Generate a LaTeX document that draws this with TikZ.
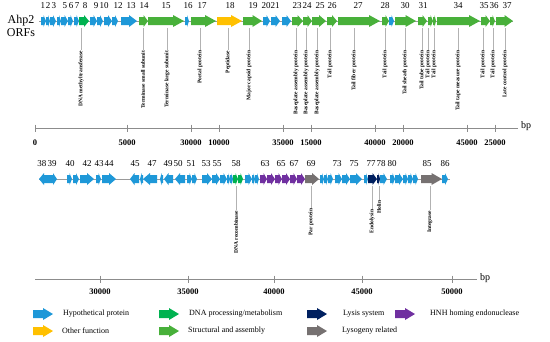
\documentclass[tikz,border=0pt]{standalone}
\usepackage{fontspec}
\setmainfont{Liberation Serif}
\usepackage{tikz}
\usetikzlibrary{positioning}

\definecolor{orfblue}{RGB}{30,152,216}
\definecolor{orfstruct}{RGB}{72,176,58}
\definecolor{orfdna}{RGB}{0,178,80}
\definecolor{orfother}{RGB}{255,192,0}
\definecolor{orflysis}{RGB}{0,32,96}
\definecolor{orflyso}{RGB}{118,113,113}
\definecolor{orfhnh}{RGB}{112,48,160}

% gene arrows: y, start, end, colour
\newcommand{\orfR}[4]{%
  \pgfmathsetmacro{\hl}{min(0.5*(#3-#2),11)}%
  \fill[#4] (#2,#1-4) -- ({#3-\hl},#1-4) -- ({#3-\hl},#1-6) -- (#3,#1)
    -- ({#3-\hl},#1+6) -- ({#3-\hl},#1+4) -- (#2,#1+4) -- cycle;}
\newcommand{\orfL}[4]{%
  \pgfmathsetmacro{\hl}{min(0.5*(#3-#2),11)}%
  \fill[#4] (#3,#1-4) -- ({#2+\hl},#1-4) -- ({#2+\hl},#1-6) -- (#2,#1)
    -- ({#2+\hl},#1+6) -- ({#2+\hl},#1+4) -- (#3,#1+4) -- cycle;}

\begin{document}
\begin{tikzpicture}[
  x=1pt, y=-1pt,
  orflabel/.style={rotate=90, anchor=east, inner sep=0.5pt,
                   font=\fontsize{5.5}{6}\selectfont\bfseries},
  orfnum/.style={inner sep=0pt, font=\fontsize{9}{10}\selectfont},
  ticklabel/.style={inner sep=0pt, font=\fontsize{8.5}{9}\selectfont\bfseries},
  legtext/.style={anchor=west, inner sep=0pt, font=\fontsize{8}{9}\selectfont},
  leader/.style={draw=gray!60, line width=0.5pt},
  track/.style={draw=gray!80, line width=0.6pt},
  axis/.style={draw=gray!90, line width=0.6pt}
]
  \useasboundingbox (0,0) rectangle (550,341);

  \node[font=\fontsize{12}{12}\selectfont, inner sep=0pt] (name) at (21,21) {Ahp2};
  \node[font=\fontsize{12}{12}\selectfont, inner sep=0pt] (orfs) at (21,33) {ORFs};

  % first track
  \draw[track] (39,21) -- (513,21);
  \foreach \a/\b/\c in {41/46/orfblue, 46/50/orfblue, 50/56/orfblue, 57/61/orfblue,
      61/68/orfblue, 68/73/orfblue, 74/79/orfblue, 79/89/orfdna, 90/97/orfblue,
      97/103/orfblue, 104/112/orfblue, 112/118/orfblue, 121/137/orfblue,
      139/148/orfstruct, 148/184/orfstruct, 185/189/orfblue, 191/216/orfstruct,
      217/242/orfother, 243/262/orfstruct, 263/270/orfblue, 271/280/orfblue,
      282/291/orfblue, 292/303/orfstruct, 303/312/orfstruct, 312/326/orfstruct,
      327/337/orfstruct, 338/380/orfstruct, 382/389/orfstruct, 389/394/orfblue,
      395/416/orfstruct, 418/427/orfstruct, 428/433/orfstruct, 433/436/orfstruct,
      437/480/orfstruct, 481/490/orfstruct, 490/495/orfstruct, 496/513/orfstruct}
    \orfR{21}{\a}{\b}{\c};
  \foreach \n/\x in {1/43, 2/48, 3/54, 5/65, 6/71, 7/77, 8/85, 9/96, 10/104,
      12/118, 13/131, 14/144, 15/166, 16/188, 17/202, 18/230, 19/253, 20/266,
      21/275, 23/297, 24/307, 25/320, 26/332, 27/358, 28/385, 30/405, 31/423,
      34/458, 35/484, 36/494, 37/507}
    \node[orfnum] (n\n) at (\x,6) {\n};
  \foreach \x/\t [count=\i] in {81/DNA methyltransferase, 143/Terminase small subunit,
      167/Terminase large subunit, 200/Portal protein, 228/Peptidase,
      249/Major capsid protein, 296/Baseplate assembly protein,
      306/Baseplate assembly protein, 317/Baseplate assembly protein,
      330/Tail protein, 354/Tail fiber protein, 385/Tail protein,
      405/Tail sheath protein, 422/Tail tube protein, 428/Tail protein,
      434/Tail protein, 458/Tail tape measure protein, 483/Tail protein,
      493/Tail protein, 505/Late control protein}
  {
    \node[orflabel] (lab\i) at (\x,50) {\t};
    \draw[leader] (\x,28) -- (lab\i.east);
  }

  % first axis
  \draw[axis] (35,128) -- (518,128);
  \node[anchor=west, inner sep=0pt, font=\fontsize{10}{10}\selectfont] (bp1) at (521,126) {bp};
  \foreach \x/\t in {35/0, 127/5000, 191/30000, 219/10000, 283/35000, 311/15000,
      375/40000, 403/20000, 467/45000, 495/25000}
  {
    \draw[axis] (\x,124.5) -- (\x,131.5);
    \node[ticklabel] at (\x,143) {\t};
  }

  % second track
  \draw[track] (39,179) -- (450,179);
  \foreach \a/\b/\c in {39/49/orfblue, 130/139/orfblue, 140/143/orfblue,
      143/157/orfblue, 160/163/orfblue, 164/173/orfblue, 175/185/orfblue}
    \orfL{179}{\a}{\b}{\c};
  \foreach \a/\b/\c in {49/57/orfblue, 67/72/orfblue, 73/79/orfblue, 80/94/orfblue,
      96/101/orfblue, 102/116/orfblue, 187/192/orfblue, 192/197/orfblue,
      202/212/orfblue, 212/220/orfblue, 220/227/orfblue, 227/230/orfblue,
      230/233/orfblue, 233/238/orfdna, 238/243/orfdna, 245/252/orfblue,
      252/255/orfblue, 255/259/orfblue, 260/267/orfhnh, 267/275/orfhnh,
      275/282/orfhnh, 282/290/orfhnh, 290/297/orfhnh, 297/305/orfhnh,
      305/319/orflyso, 320/324/orfblue, 324/328/orfblue, 328/333/orfblue,
      335/342/orfblue, 342/350/orfblue, 350/362/orfblue, 364/368/orfblue,
      368/377/orflysis, 377/380/orflysis, 380/387/orfblue, 390/395/orfblue,
      395/403/orfblue, 403/408/orfblue, 408/413/orfblue, 413/418/orfblue,
      421/442/orflyso, 442/448/orfblue}
    \orfR{179}{\a}{\b}{\c};
  \foreach \n/\x in {38/42, 39/52, 40/70, 42/87, 43/99, 44/109, 45/135, 47/152,
      49/168, 50/178, 51/191, 53/206, 55/217, 58/236, 63/265, 65/281, 67/294,
      69/311, 73/337, 75/354, 77/371, 78/381, 80/392, 85/427, 86/445}
    \node[orfnum] (n\n) at (\x,164) {\n};
  \foreach \x/\y/\t [count=\i] in {236/210/DNA recombinase, 311/208/Par protein,
      372/209/Endolysin, 379/200/Holin, 430/210/Integrase}
  {
    \node[orflabel] (low\i) at (\x,\y) {\t};
    \draw[leader] (\x,186) -- (low\i.east);
  }

  % second axis
  \draw[axis] (35,279) -- (477,279);
  \node[anchor=west, inner sep=0pt, font=\fontsize{10}{10}\selectfont] (bp2) at (480,278) {bp};
  \foreach \x/\t in {100/30000, 188/35000, 274/40000, 362/45000, 452/50000}
  {
    \draw[axis] (\x,275.5) -- (\x,282.5);
    \node[ticklabel] at (\x,292) {\t};
  }

  % legend
  \foreach \y/\a/\c in {314/33/orfblue, 331/33/orfother, 314/159/orfdna,
      331/159/orfstruct, 314/307/orflysis, 331/307/orflyso, 314/395/orfhnh}
    \orfR{\y}{\a}{\a+20}{\c};
  \node[legtext] (lhyp) at (63,314) {Hypothetical protein};
  \node[legtext] (loth) at (62,331) {Other function};
  \node[legtext] (ldna) at (189,314) {DNA processing/metabolism};
  \node[legtext] (lstr) at (188,331) {Structural and assembly};
  \node[legtext] (llys) at (343,314) {Lysis system};
  \node[legtext] (llsg) at (342,331) {Lysogeny related};
  \node[legtext] (lhnh) at (430,314) {HNH homing endonuclease};
\end{tikzpicture}
\end{document}
